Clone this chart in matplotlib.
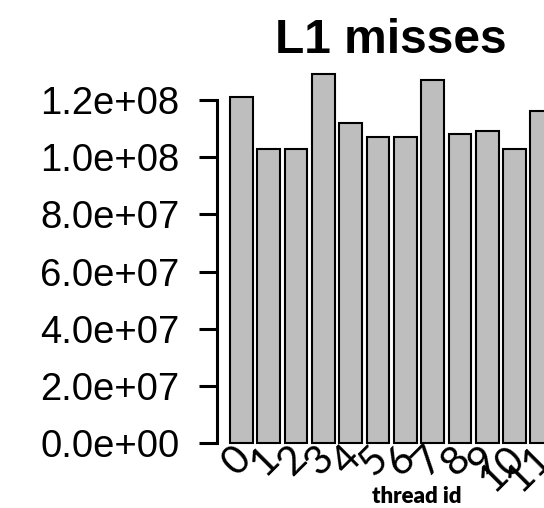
import matplotlib.pyplot as plt
from matplotlib.transforms import ScaledTranslation

# Datos: fallos de caché L1 por hilo
hilos = ['0', '1', '2', '3', '4', '5', '6', '7', '8', '9', '10', '11']
fallos = [1.21e8, 1.03e8, 1.03e8, 1.29e8, 1.12e8, 1.07e8, 1.07e8,
          1.27e8, 1.08e8, 1.09e8, 1.03e8, 1.16e8]
ticks_y = [0, 2e7, 4e7, 6e7, 8e7, 1.0e8, 1.2e8]

W, H = 544, 508
fig = plt.figure(figsize=(W / 100, H / 100), dpi=100)

# Ejes colocados en píxeles (el gráfico sigue más allá del borde derecho)
izq, der, abajo, arriba = 217, 544, 446, 60
ax = fig.add_axes([izq / W, 1 - abajo / H, (der - izq) / W, (abajo - arriba) / H])

posiciones = list(range(len(hilos)))
ax.bar(posiciones, fallos, width=1 / 1.2, color='#bebebe',
       edgecolor='black', linewidth=1.5)

ax.set_xlim(-0.894, 11.08)
ax.set_ylim(-1.05e6, 1.34e8)

# Eje Y al estilo de R
for lado in ['top', 'right', 'bottom']:
    ax.spines[lado].set_visible(False)
ax.spines['left'].set_bounds(0, 1.2e8)
ax.spines['left'].set_linewidth(2.2)
ax.set_yticks(ticks_y)
ax.set_yticklabels([f'{v:.1e}' for v in ticks_y],
                   fontsize=27.5, family='Liberation Sans')
ax.tick_params(axis='y', length=13, width=2.2, pad=14)

# Etiquetas de los hilos giradas 45 grados
ax.set_xticks(posiciones)
ax.set_xticklabels(hilos, rotation=45, ha='right', va='top',
                   rotation_mode='anchor', fontsize=29, family='Lato')
ax.tick_params(axis='x', length=0, pad=0)
desplazamiento = ScaledTranslation(-9 / 100, 7 / 100, fig.dpi_scale_trans)
for etiqueta in ax.get_xticklabels():
    etiqueta.set_transform(etiqueta.get_transform() + desplazamiento)

fig.text(391 / W, 1 - 53 / H, 'L1 misses', ha='center', va='baseline',
         fontsize=34.5, fontweight='bold', family='Liberation Sans')
fig.text(417 / W, 1 - 503 / H, 'thread id', ha='center', va='baseline',
         fontsize=16, fontweight='heavy', family='Lato')

fig.savefig('out.png', dpi=100)
